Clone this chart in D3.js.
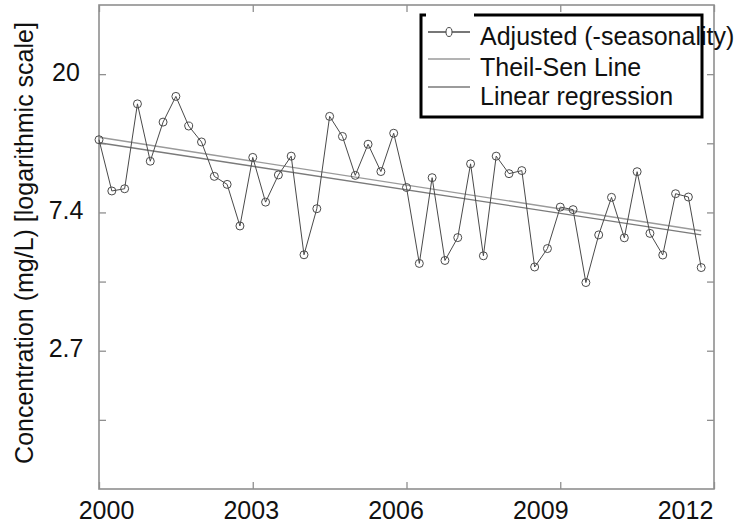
<!DOCTYPE html>
<html>
<head>
<meta charset="utf-8">
<script src="https://cdn.jsdelivr.net/npm/d3@7"></script>
<style>
  html, body { margin: 0; padding: 0; background: #fff; }
  svg { display: block; font-family: "Liberation Sans", Arial, Helvetica, sans-serif; }
</style>
</head>
<body>
<svg id="chart" width="739" height="524"></svg>
<script>
// ---- data ----
const years = [
  2000.00, 2000.25, 2000.50, 2000.75, 2001.00, 2001.25, 2001.50, 2001.75,
  2002.00, 2002.25, 2002.50, 2002.75, 2003.00, 2003.25, 2003.50, 2003.75,
  2004.00, 2004.25, 2004.50, 2004.75, 2005.00, 2005.25, 2005.50, 2005.75,
  2006.00, 2006.25, 2006.50, 2006.75, 2007.00, 2007.25, 2007.50, 2007.75,
  2008.00, 2008.25, 2008.50, 2008.75, 2009.00, 2009.25, 2009.50, 2009.75,
  2010.00, 2010.25, 2010.50, 2010.75, 2011.00, 2011.25, 2011.50, 2011.75
];
const adjusted = [
  12.5, 8.63, 8.77, 16.2, 10.7, 14.2, 17.1, 13.8,
  12.3, 9.59, 9.05, 6.70, 11.0, 7.96, 9.69, 11.1,
  5.44, 7.59, 14.8, 12.8, 9.66, 12.1, 9.93, 13.1,
  8.85, 5.11, 9.50, 5.22, 6.16, 10.5, 5.40, 11.1,
  9.78, 10.0, 4.98, 5.69, 7.68, 7.54, 4.45, 6.28,
  8.24, 6.15, 9.92, 6.35, 5.43, 8.46, 8.26, 4.96
];
const theilSenYears = [2000.0, 2011.75];
const theilSenValues = [12.72, 6.47];
const regressionYears = [2000.0, 2011.75];
const regressionValues = [12.23, 6.28];

const xTickYears = [2000, 2003, 2006, 2009, 2012];
const xTickLabels = ["2000", "2003", "2006", "2009", "2012"];
const yTickValues = [Math.exp(0.5), Math.exp(1), Math.exp(1.5), Math.exp(2), Math.exp(2.5), Math.exp(3)];
const yTickLabels = ["", "2.7", "", "7.4", "", "20"];
const yDomain = [1, Math.exp(3.5)];
const legendLabels = ["Adjusted (-seasonality)", "Theil-Sen Line", "Linear regression"];
const yTitle = "Concentration (mg/L) [logarithmic scale]";

// ---- layout ----
const L = 99, R = 714, T = 5, B = 489;
const FONT = 25;
const svg = d3.select("#chart");

const x = d3.scaleLinear().domain([2000, 2012]).range([L, R]);
const xLabel = d3.scaleLinear().domain([2000, 2012]).range([106, 685]);
const y = d3.scaleLog().domain(yDomain).range([B, T]);

const axisColor = "#8f8f8f";

// frame
svg.append("rect")
  .attr("x", L).attr("y", T).attr("width", R - L).attr("height", B - T)
  .attr("fill", "none").attr("stroke", axisColor).attr("stroke-width", 1.6);

function styleAxis(g) {
  g.select(".domain").remove();
  g.selectAll(".tick line").attr("stroke", axisColor).attr("stroke-width", 1.3);
}

// bottom ticks (inward)
svg.append("g").attr("transform", `translate(0,${B})`)
  .call(d3.axisBottom(x).tickValues(xTickYears).tickSizeInner(-7).tickSizeOuter(0).tickFormat(""))
  .call(styleAxis);
// top ticks
svg.append("g").attr("transform", `translate(0,${T})`)
  .call(d3.axisTop(x).tickValues(xTickYears).tickSizeInner(-7).tickSizeOuter(0).tickFormat(""))
  .call(styleAxis);
// bottom labels
const xl = svg.append("g").attr("transform", `translate(0,${B})`)
  .call(d3.axisBottom(xLabel).tickValues(xTickYears).tickSize(0).tickPadding(12.5)
    .tickFormat((d, i) => xTickLabels[i]));
xl.select(".domain").remove();
xl.selectAll("text").attr("font-size", FONT).attr("fill", "#111")
  .attr("font-family", "Liberation Sans, Arial, sans-serif");

// left axis
const yl = svg.append("g").attr("transform", `translate(${L},0)`)
  .call(d3.axisLeft(y).tickValues(yTickValues).tickSizeInner(-7).tickSizeOuter(0)
    .tickFormat((d, i) => yTickLabels[i]));
styleAxis(yl);
yl.selectAll("text").attr("font-size", FONT).attr("fill", "#111")
  .attr("text-anchor", "middle").attr("x", -33).attr("dy", "0.24em")
  .attr("font-family", "Liberation Sans, Arial, sans-serif");
// right ticks
svg.append("g").attr("transform", `translate(${R},0)`)
  .call(d3.axisRight(y).tickValues(yTickValues).tickSizeInner(-7).tickSizeOuter(0).tickFormat(""))
  .call(styleAxis);

// y title
svg.append("text")
  .attr("transform", `translate(33,243) rotate(-90)`)
  .attr("text-anchor", "middle")
  .attr("font-size", FONT).attr("fill", "#111")
  .text(yTitle);

// trend lines
const trendLine = d3.line().x(d => x(d[0])).y(d => y(d[1]));
svg.append("path")
  .datum(theilSenYears.map((yr, i) => [yr, theilSenValues[i]]))
  .attr("d", trendLine).attr("fill", "none").attr("stroke", "#9a9a9a").attr("stroke-width", 1.4);
svg.append("path")
  .datum(regressionYears.map((yr, i) => [yr, regressionValues[i]]))
  .attr("d", trendLine).attr("fill", "none").attr("stroke", "#7a7a7a").attr("stroke-width", 1.4);

// adjusted series
const pts = years.map((yr, i) => [yr, adjusted[i]]);
svg.append("path").datum(pts).attr("d", trendLine)
  .attr("fill", "none").attr("stroke", "#4a4a4a").attr("stroke-width", 1);
svg.append("g").selectAll("circle").data(pts).join("circle")
  .attr("cx", d => x(d[0])).attr("cy", d => y(d[1])).attr("r", 4)
  .attr("fill", "none").attr("stroke", "#4a4a4a").attr("stroke-width", 1);

// legend
const lg = svg.append("g");
lg.append("rect").attr("x", 421).attr("y", 15).attr("width", 281).attr("height", 102).attr("fill", "#fff");
const legendRows = [
  { label: legendLabels[0], lineY: 32, baseY: 45, color: "#4a4a4a", marker: true },
  { label: legendLabels[1], lineY: 59, baseY: 75.5, color: "#9a9a9a", marker: false },
  { label: legendLabels[2], lineY: 87, baseY: 105, color: "#7a7a7a", marker: false }
];
legendRows.forEach(r => {
  lg.append("line").attr("x1", 428).attr("x2", 470).attr("y1", r.lineY).attr("y2", r.lineY)
    .attr("stroke", r.color).attr("stroke-width", 1.4);
  if (r.marker) {
    lg.append("ellipse").attr("cx", 449).attr("cy", r.lineY).attr("rx", 3).attr("ry", 4.5)
      .attr("fill", "#fff").attr("stroke", r.color).attr("stroke-width", 1);
  }
  lg.append("text").attr("x", 480).attr("y", r.baseY)
    .attr("font-size", FONT).attr("fill", "#111").text(r.label);
});
lg.append("path")
  .attr("d", "M426,15 H421 V117 H702 V15 H474")
  .attr("fill", "none").attr("stroke", "#000").attr("stroke-width", 3);
</script>
</body>
</html>
